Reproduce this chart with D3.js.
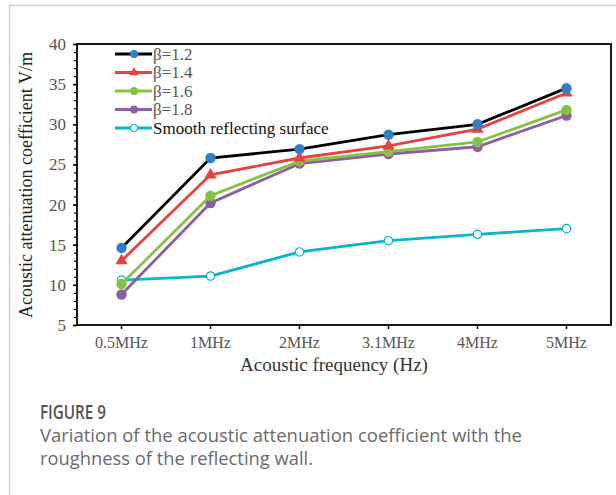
<!DOCTYPE html>
<html>
<head>
<meta charset="utf-8">
<script src="https://cdn.jsdelivr.net/npm/d3@7"></script>
<style>
  body { margin: 0; background: #fff; }
  svg { display: block; }
</style>
</head>
<body>
<div id="chart"></div>
<script>
// data
const categories = ["0.5MHz", "1MHz", "2MHz", "3.1MHz", "4MHz", "5MHz"];
const beta12 = [14.6, 25.8, 26.9, 28.7, 30.0, 34.5];
const beta14 = [13.0, 23.7, 25.8, 27.3, 29.4, 33.9];
const beta16 = [10.1, 21.1, 25.4, 26.6, 27.8, 31.8];
const beta18 = [8.8, 20.2, 25.1, 26.3, 27.2, 31.1];
const smooth = [10.6, 11.1, 14.1, 15.5, 16.3, 17.0];
const yTicks = [5, 10, 15, 20, 25, 30, 35, 40];

const series = [
  { name: "β=1.2", values: beta12, line: "#000000", fill: "#2f7fc8", shape: "circle" },
  { name: "β=1.4", values: beta14, line: "#e8423f", fill: "#e8423f", shape: "triangle" },
  { name: "β=1.6", values: beta16, line: "#84c341", fill: "#84c341", shape: "circle" },
  { name: "β=1.8", values: beta18, line: "#8b5ea6", fill: "#8b5ea6", shape: "circle" },
  { name: "Smooth reflecting surface", values: smooth, line: "#0bb3cc", fill: "#fff", shape: "open" }
];

const width = 616, height = 495;
const margin = { top: 44, left: 77 };
const innerWidth = 534;
const innerHeight = 325 - margin.top;

const svg = d3.select("#chart").append("svg")
  .attr("width", width)
  .attr("height", height);

// page frame
svg.append("line").attr("x1", 9).attr("x2", width).attr("y1", 5.5).attr("y2", 5.5)
  .attr("stroke", "#cfcfcf").attr("stroke-width", 1.5);
svg.append("line").attr("x1", 9.5).attr("x2", 9.5).attr("y1", 5).attr("y2", height)
  .attr("stroke", "#cfcfcf").attr("stroke-width", 1.5);

const x = d3.scaleBand().domain(categories).range([0, innerWidth]);
const y = d3.scaleLinear().domain([5, 40]).range([innerHeight, 0]);

const g = svg.append("g").attr("transform", `translate(${margin.left},${margin.top})`);

// frame
g.append("rect").attr("width", innerWidth).attr("height", innerHeight)
  .attr("fill", "none").attr("stroke", "#000").attr("stroke-width", 1.8);

// y axis, minor + major
g.append("g")
  .call(d3.axisLeft(y).tickValues(d3.range(5, 41, 1)).tickSize(3).tickFormat(""))
  .call(a => a.select(".domain").remove())
  .call(a => a.selectAll("line").attr("stroke", "#000").attr("stroke-width", 1.2));
g.append("g")
  .call(d3.axisLeft(y).tickValues(yTicks).tickSize(4).tickPadding(7))
  .call(a => a.select(".domain").remove())
  .call(a => a.selectAll("line").attr("stroke", "#000").attr("stroke-width", 1.5))
  .call(a => a.selectAll("text")
    .attr("font-family", "Liberation Serif, serif")
    .attr("font-size", 17)
    .attr("fill", "#555"));

// x axis
g.append("g")
  .attr("transform", `translate(0,${innerHeight})`)
  .call(d3.axisBottom(x).tickSize(4).tickPadding(8))
  .call(a => a.select(".domain").remove())
  .call(a => a.selectAll("line").attr("stroke", "#000").attr("stroke-width", 1.5))
  .call(a => a.selectAll("text")
    .attr("font-family", "Liberation Serif, serif")
    .attr("font-size", 16)
    .attr("fill", "#555"));

// axis titles
svg.append("text")
  .attr("transform", "translate(32,185) rotate(-90)")
  .attr("text-anchor", "middle")
  .attr("font-family", "Liberation Serif, serif")
  .attr("font-size", 18)
  .attr("fill", "#222")
  .text("Acoustic attenuation coefficient V/m");
svg.append("text")
  .attr("x", 334).attr("y", 371)
  .attr("text-anchor", "middle")
  .attr("font-family", "Liberation Serif, serif")
  .attr("font-size", 19)
  .attr("fill", "#333")
  .text("Acoustic frequency (Hz)");

const cx = (i) => x(categories[i]) + x.bandwidth() / 2;
const line = d3.line().x((d, i) => cx(i)).y(d => y(d));

function marker(sel, s, r) {
  if (s.shape === "triangle") {
    sel.append("path")
      .attr("d", d3.symbol(d3.symbolTriangle, r * r * 2.4)())
      .attr("fill", s.fill);
  } else if (s.shape === "open") {
    sel.append("circle").attr("r", r - 1)
      .attr("fill", "#fff").attr("stroke", s.line).attr("stroke-width", 1.2);
  } else {
    sel.append("circle").attr("r", r).attr("fill", s.fill);
  }
}

// smooth first so the beta lines sit on top
series.slice().reverse().forEach(s => {
  g.append("path")
    .datum(s.values)
    .attr("fill", "none")
    .attr("stroke", s.line)
    .attr("stroke-width", 2.8)
    .attr("d", line);
  s.values.forEach((v, i) => {
    const m = g.append("g").attr("transform", `translate(${cx(i)},${y(v)})`);
    marker(m, s, 5.2);
  });
});

// legend
const legend = g.append("g").attr("transform", "translate(38,10)");
series.forEach((s, i) => {
  const row = legend.append("g").attr("transform", `translate(0,${i * 18.5})`);
  row.append("line").attr("x1", 0).attr("x2", 37)
    .attr("stroke", s.line).attr("stroke-width", 2.8);
  const m = row.append("g").attr("transform", "translate(19,0)");
  marker(m, s, s.shape === "open" ? 4.5 : 4);
  row.append("text")
    .attr("x", 38).attr("dy", "0.35em")
    .attr("font-family", "Liberation Serif, serif")
    .attr("font-size", 17)
    .attr("fill", s.shape === "open" ? "#111" : "#555")
    .text(s.name);
});

// caption
svg.append("text")
  .attr("x", 40).attr("y", 419)
  .attr("font-family", "Open Sans, sans-serif")
  .attr("font-size", 19)
  .attr("font-weight", 600)
  .attr("fill", "#555")
  .attr("textLength", 66)
  .attr("lengthAdjust", "spacingAndGlyphs")
  .text("FIGURE 9");
const captionLines = ["Variation of the acoustic attenuation coefficient with the",
  "roughness of the reflecting wall."];
const captionWidths = [482, 273];
captionLines.forEach((t, i) => {
  svg.append("text")
    .attr("x", 40).attr("y", 442 + i * 23)
    .attr("font-family", "Open Sans, sans-serif")
    .attr("font-size", 17.5)
    .attr("fill", "#6a6a6a")
    .attr("textLength", captionWidths[i])
    .attr("lengthAdjust", "spacingAndGlyphs")
    .text(t);
});
</script>
</body>
</html>
